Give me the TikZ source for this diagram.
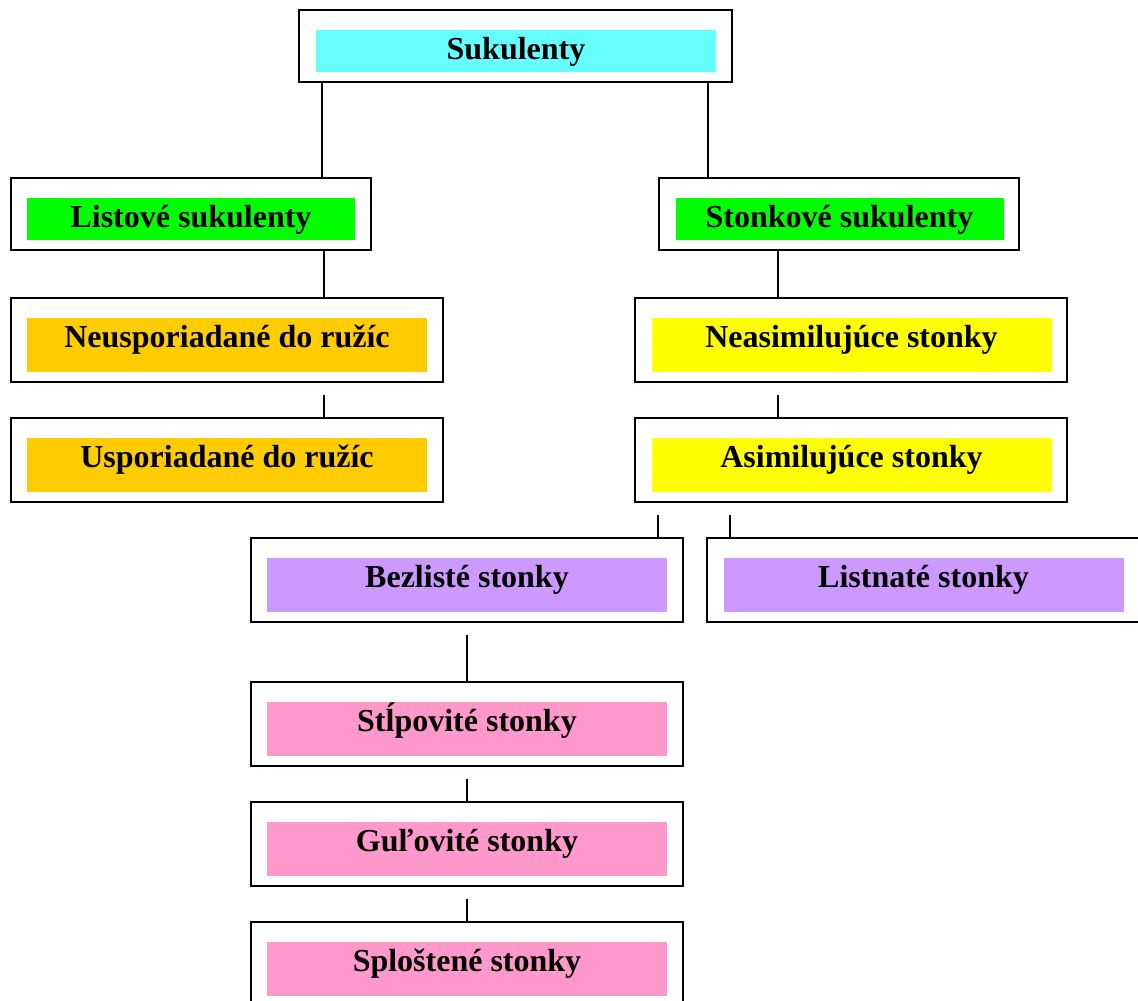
\documentclass[tikz,border=0pt]{standalone}
\usepackage{fontspec}
\setmainfont{Liberation Serif}
\usepackage{tikz}

\definecolor{rootcol}{HTML}{66FFFF}
\definecolor{groupcol}{HTML}{00FF00}
\definecolor{leafcol}{HTML}{FFCC00}
\definecolor{stemcol}{HTML}{FFFF00}
\definecolor{typecol}{HTML}{CC99FF}
\definecolor{shapecol}{HTML}{FF99CC}

\begin{document}
\begin{tikzpicture}[x=1pt,y=-1pt,draw=black,line width=1.8pt]
    \tikzstyle{every edge}=[draw,line width=1.8pt]
    \tikzstyle{outer box}=[draw,line width=1.8pt,inner sep=0pt,minimum width=432pt,minimum height=84pt]
    \tikzstyle{small outer box}=[outer box,minimum width=360pt,minimum height=72pt]
    \tikzstyle{inner box}=[anchor=north,inner sep=0pt,minimum width=400pt,text height=30pt,text depth=24pt,
        font=\fontsize{32}{38}\selectfont\bfseries]
    \tikzstyle{small inner box}=[inner box,minimum width=328pt,text depth=12pt]

    \useasboundingbox (0,0) rectangle (1138,1001);
    \clip (0,0) rectangle (1138,1001);

    % Draw the root
    \node[small outer box,minimum width=433pt] (S) at (515.5,46) {};
    \node[small inner box,minimum width=400pt,fill=rootcol] (S-t) at (516,29) {Sukulenty};

    % Draw the leaf branch
    \node[small outer box] (L-1) at (191,214) {};
    \node[small inner box,fill=groupcol] (L-1-t) at (191,197) {Listové sukulenty};
    \node[outer box] (L-2) at (227,340) {};
    \node[inner box,fill=leafcol] (L-2-t) at (227,317) {Neusporiadané do ružíc};
    \node[outer box] (L-3) at (227,460) {};
    \node[inner box,fill=leafcol] (L-3-t) at (227,437) {Usporiadané do ružíc};

    % Draw the stem branch
    \node[small outer box] (T-1) at (839,214) {};
    \node[small inner box,fill=groupcol] (T-1-t) at (839.5,197) {Stonkové sukulenty};
    \node[outer box] (T-2) at (851,340) {};
    \node[inner box,fill=stemcol] (T-2-t) at (851.5,317) {Neasimilujúce stonky};
    \node[outer box] (T-3) at (851,460) {};
    \node[inner box,fill=stemcol] (T-3-t) at (851.5,437) {Asimilujúce stonky};
    \node[outer box] (T-4) at (467,580) {};
    \node[inner box,fill=typecol] (T-4-t) at (467,557) {Bezlisté stonky};
    \node[outer box] (T-5) at (923,580) {};
    \node[inner box,fill=typecol] (T-5-t) at (923.5,557) {Listnaté stonky};
    \node[outer box] (T-6) at (467,724) {};
    \node[inner box,fill=shapecol] (T-6-t) at (467,701) {Stĺpovité stonky};
    \node[outer box] (T-7) at (467,844) {};
    \node[inner box,fill=shapecol] (T-7-t) at (467,821) {Guľovité stonky};
    \node[outer box] (T-8) at (467,964) {};
    \node[inner box,fill=shapecol] (T-8-t) at (467,941) {Sploštené stonky};

    % Connect them
    \coordinate (c-1) at ([xshift=24pt]S.south west);
    \coordinate (c-2) at ([xshift=-25pt]S.south east);
    \coordinate (c-3) at ([xshift=-48pt]L-1.south east);
    \coordinate (c-4) at ([xshift=-120pt,yshift=-12pt]L-2.south east);
    \coordinate (c-5) at ([xshift=120pt]T-1.south west);
    \coordinate (c-6) at ([xshift=144pt,yshift=-12pt]T-2.south west);
    \coordinate (c-7) at ([xshift=24pt,yshift=-12pt]T-3.south west);
    \coordinate (c-8) at ([xshift=96pt,yshift=-12pt]T-3.south west);
    \coordinate (c-9) at ([yshift=-12pt]T-4.south);
    \coordinate (c-10) at ([yshift=-12pt]T-6.south);
    \coordinate (c-11) at ([yshift=-12pt]T-7.south);
    \path (c-1) edge (c-1 |- L-1.north);
    \path (c-2) edge (c-2 |- T-1.north);
    \path (c-3) edge (c-3 |- L-2.north);
    \path (c-4) edge (c-4 |- L-3.north);
    \path (c-5) edge (c-5 |- T-2.north);
    \path (c-6) edge (c-6 |- T-3.north);
    \path (c-7) edge (c-7 |- T-4.north);
    \path (c-8) edge (c-8 |- T-5.north);
    \path (c-9) edge (c-9 |- T-6.north);
    \path (c-10) edge (c-10 |- T-7.north);
    \path (c-11) edge (c-11 |- T-8.north);
\end{tikzpicture}
\end{document}
